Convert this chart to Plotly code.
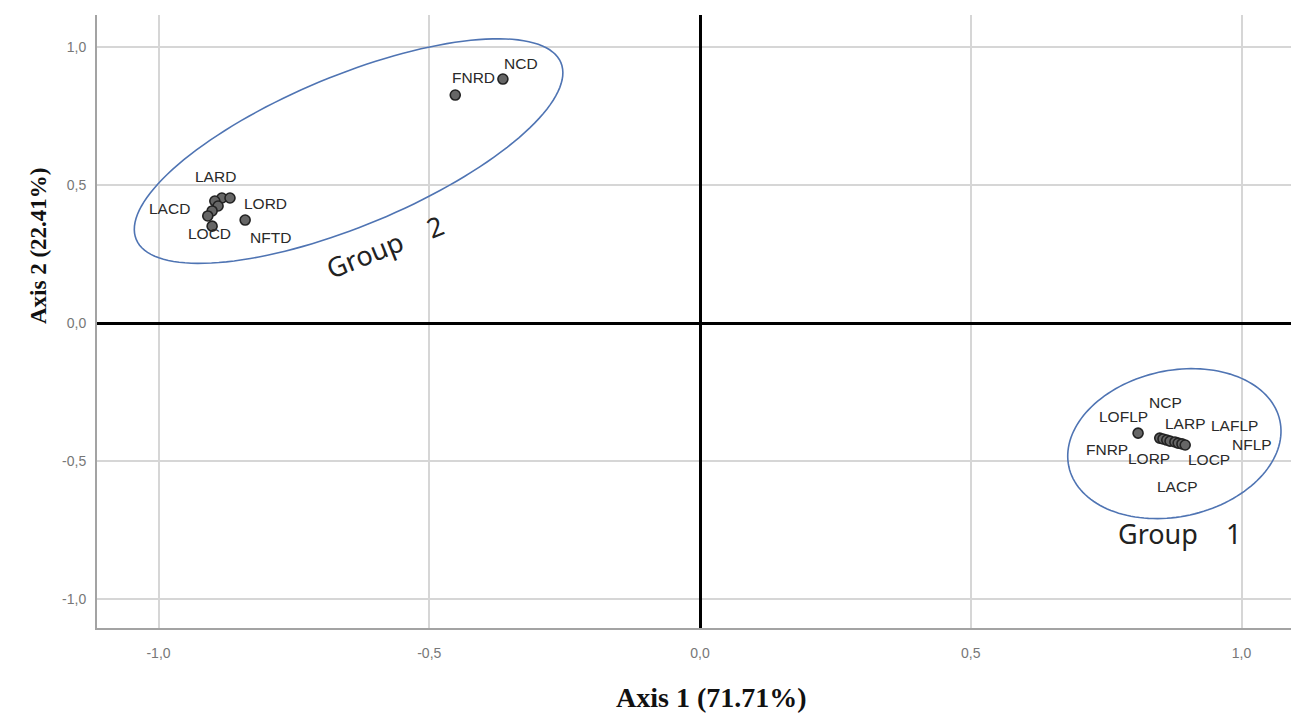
import numpy as np
import plotly.graph_objects as go

# ---------------- data ----------------
g2_names = ["LARD", "LORD", "LACD", "LOCD", "NFTD", "FNRD", "NCD", "", "", ""]
g2_x = [-0.883, -0.868, -0.896, -0.901, -0.840, -0.452, -0.364, -0.890, -0.901, -0.909]
g2_y = [0.453, 0.453, 0.442, 0.351, 0.373, 0.826, 0.884, 0.424, 0.406, 0.388]

g1_names = ["LOFLP", "FNRP", "LORP", "NCP", "LACP", "LARP", "LOCP", "LAFLP", "NFLP"]
g1_x = [0.809, 0.849, 0.855, 0.862, 0.868, 0.877, 0.883, 0.890, 0.896]
g1_y = [-0.399, -0.417, -0.420, -0.424, -0.428, -0.431, -0.435, -0.438, -0.442]

tick_vals = [-1.0, -0.5, 0.0, 0.5, 1.0]
tick_text = ["-1,0", "-0,5", "0,0", "0,5", "1,0"]

x_title = "Axis 1 (71.71%)"
y_title = "Axis 2 (22.41%)"
group_labels = ["Group\u00a0\u00a0\u00a0\u00a02", "Group\u00a0\u00a0\u00a0\u00a01"]

# ---------------- layout geometry / styles ----------------
W, H = 1291, 715
ML, MR, MT, MB = 97, 0, 15, 87
XR = [-1.1136, 1.0914]
YR = [-1.105, 1.116]
plot_w = W - ML - MR
plot_h = H - MT - MB
sx = plot_w / (XR[1] - XR[0])
sy = plot_h / (YR[1] - YR[0])

# label offsets in px (dx right, dy down)
g2_off = [(-6, -21), (36, 6), (-45, 7), (-3, 7), (25, 17), (18, -18), (18, -16),
          (0, 0), (0, 0), (0, 0)]
g1_off = [(-15, -17), (-53, 11), (-14, 20), (-1, -38), (7, 45), (11, -18),
          (31, 16), (53, -18), (67, -1)]

# ellipses: centre (data), semi-axes (px), angle (deg)
ellipses = [((-0.649, 0.623), 230, 75, 22.6), ((0.876, -0.437), 108, 73, 12.4)]

fig = go.Figure()
marker = dict(size=10, color="#666666", line=dict(color="#222222", width=1.6))
fig.add_trace(go.Scatter(x=g2_x, y=g2_y, mode="markers", marker=marker, hoverinfo="skip"))
fig.add_trace(go.Scatter(x=g1_x, y=g1_y, mode="markers", marker=marker, hoverinfo="skip"))

annotations = []
lab_font = dict(family="Liberation Sans, Arial, sans-serif", size=15.5, color="#2a2a2a")
for names, xs, ys, offs in [(g2_names, g2_x, g2_y, g2_off), (g1_names, g1_x, g1_y, g1_off)]:
    for n, x, y, (dx, dy) in zip(names, xs, ys, offs):
        if not n:
            continue
        annotations.append(dict(x=x, y=y, xref="x", yref="y", text=n, showarrow=False,
                                xshift=dx, yshift=-dy, font=lab_font))

# ellipse shapes
shapes = []
t = np.linspace(0, 2 * np.pi, 145)
for (cx, cy), a, b, ang in ellipses:
    th = np.deg2rad(ang)
    px = a * np.cos(t) * np.cos(th) - b * np.sin(t) * np.sin(th)
    py = a * np.cos(t) * np.sin(th) + b * np.sin(t) * np.cos(th)
    xs = cx + px / sx
    ys = cy + py / sy
    path = "M " + " L ".join(f"{u:.5f},{v:.5f}" for u, v in zip(xs, ys)) + " Z"
    shapes.append(dict(type="path", path=path, xref="x", yref="y",
                       line=dict(color="#4f74b3", width=1.6), fillcolor="rgba(0,0,0,0)"))

grp_font = dict(family="Noto Sans, Open Sans, sans-serif", size=27, color="#222222")
annotations.append(dict(x=-0.582, y=0.279, xref="x", yref="y", text=group_labels[0],
                        showarrow=False, textangle=-22, font=grp_font))
annotations.append(dict(x=0.886, y=-0.764, xref="x", yref="y", text=group_labels[1],
                        showarrow=False, font=grp_font))

title_font_x = dict(family="Liberation Serif, Times New Roman, serif", size=28, color="#111111")
title_font_y = dict(family="Liberation Serif, Times New Roman, serif", size=23, color="#111111")
annotations.append(dict(x=(711 - ML) / plot_w, y=-(697 - (H - MB)) / plot_h, xref="paper", yref="paper",
                        xanchor="center", yanchor="middle",
                        text="<b>" + x_title + "</b>", showarrow=False, font=title_font_x))
annotations.append(dict(x=(38 - ML) / plot_w, y=((H - MB) - 246) / plot_h, xref="paper", yref="paper",
                        xanchor="center", yanchor="middle",
                        text="<b>" + y_title + "</b>", showarrow=False, textangle=-90, font=title_font_y))

axis_common = dict(
    showgrid=True, gridcolor="#d6d6d6", gridwidth=1.5,
    zeroline=True, zerolinecolor="#000000", zerolinewidth=3,
    showline=True, linecolor="#a3a3a3", linewidth=2,
    tickvals=tick_vals, ticktext=tick_text,
    ticks="outside", tickcolor="rgba(0,0,0,0)",
)

fig.update_layout(
    width=W, height=H,
    margin=dict(l=ML, r=MR, t=MT, b=MB, autoexpand=False),
    plot_bgcolor="white", paper_bgcolor="white",
    showlegend=False,
    xaxis=dict(range=XR, ticklen=11,
               tickfont=dict(family="Liberation Sans Narrow, Arial Narrow, Liberation Sans, sans-serif",
                             size=14, color="#777777"), **axis_common),
    yaxis=dict(range=YR, ticklen=6,
               tickfont=dict(family="Liberation Sans, Arial, sans-serif", size=14, color="#777777"),
               **axis_common),
    shapes=shapes,
    annotations=annotations,
)

fig.write_html("out.html", config={"displayModeBar": False},
               post_script="document.body.style.margin='0';")
